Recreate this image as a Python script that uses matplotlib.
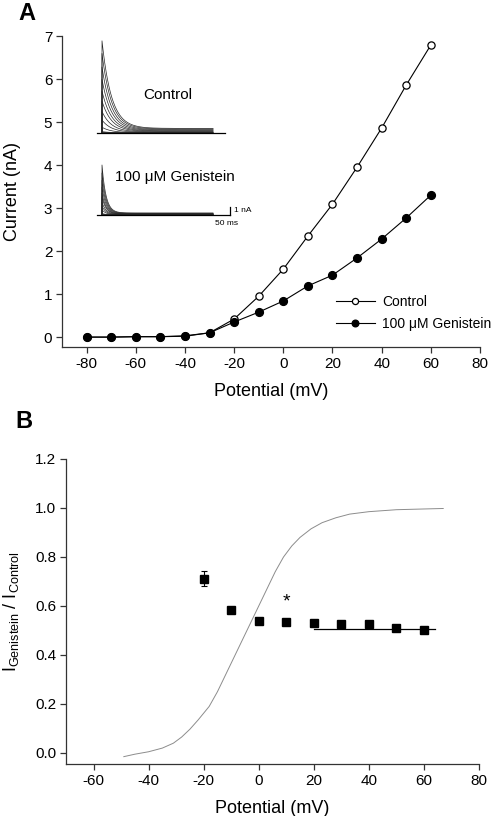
import matplotlib
matplotlib.use('Agg')
import matplotlib.pyplot as plt
import numpy as np

plt.rcParams['font.family'] = ['Liberation Sans', 'DejaVu Sans']
plt.rcParams['mathtext.default'] = 'regular'
plt.rcParams['axes.unicode_minus'] = False

# Panel A: I-V relation
voltage_a = [-80, -70, -60, -50, -40, -30, -20, -10, 0, 10, 20, 30, 40, 50, 60]
current_control = [0.0, 0.0, 0.01, 0.01, 0.02, 0.10, 0.42, 0.95, 1.58, 2.35, 3.09, 3.95, 4.86, 5.86, 6.79]
current_genistein = [0.0, 0.0, 0.01, 0.01, 0.03, 0.10, 0.35, 0.58, 0.84, 1.19, 1.44, 1.84, 2.28, 2.77, 3.30]

# Panel B: ratio of currents
voltage_b = [-20, -10, 0, 10, 20, 30, 40, 50, 60]
ratio = [0.711, 0.584, 0.539, 0.535, 0.532, 0.527, 0.525, 0.510, 0.503]
ratio_err = [0.03, 0.006, 0.006, 0.006, 0.006, 0.01, 0.012, 0.01, 0.008]
fit_v = [20, 64]
fit_ratio = [0.505, 0.505]

# activation curve (grey)
act_v = [-49, -45, -40, -35, -31, -28, -25, -22, -18, -15, -12, -9, -6, -3, 0,
         3, 6, 9, 12, 15, 19, 23, 28, 33, 40, 50, 60, 67]
act_i = [-0.015, -0.005, 0.005, 0.02, 0.04, 0.065, 0.097, 0.135, 0.19, 0.25, 0.32, 0.39,
         0.46, 0.53, 0.60, 0.67, 0.74, 0.80, 0.845, 0.88, 0.915, 0.94, 0.96, 0.975,
         0.985, 0.993, 0.996, 0.998]


def style_axes(ax):
    for s in ['top', 'right']:
        ax.spines[s].set_visible(False)
    for s in ['left', 'bottom']:
        ax.spines[s].set_color('0.2')
        ax.spines[s].set_linewidth(0.9)
    ax.tick_params(direction='out', length=4, width=0.9, color='0.2', labelsize=11, pad=3)


W, H = 492, 816
fig = plt.figure(figsize=(W / 100, H / 100), dpi=100)


def px_axes(x0, y0, x1, y1):
    return fig.add_axes([x0 / W, 1 - y1 / H, (x1 - x0) / W, (y1 - y0) / H])


# ---- Panel A ----
ax1 = px_axes(62, 36, 480, 347)
ax1.plot(voltage_a, current_control, '-o', color='black', lw=0.8, ms=5.2,
         mfc='white', mec='black', mew=0.9, label='Control')
ax1.plot(voltage_a, current_genistein, '-o', color='black', lw=0.8, ms=5.6,
         mfc='black', mec='black', label='100 \u03bcM Genistein')
ax1.set_xlim(-90, 80)
ax1.set_ylim(-0.23, 7)
ax1.set_xticks(range(-80, 81, 20))
ax1.set_yticks(range(0, 8))
ax1.set_xlabel('Potential (mV)', fontsize=13, labelpad=9)
ax1.set_ylabel('Current (nA)', fontsize=13)
ax1.yaxis.set_label_coords(-0.098, 0.5)
style_axes(ax1)
ax1.legend(loc='upper left', bbox_to_anchor=(336 / W, 1 - 295 / H),
           bbox_transform=fig.transFigure, frameon=False, fontsize=10,
           handlelength=2.8, handletextpad=0.5, labelspacing=0.6,
           borderpad=0, borderaxespad=0, markerscale=0.85)
fig.text(18 / W, 1 - 13 / H, 'A', fontsize=17, fontweight='bold', va='center', ha='left')

# ---- inset current traces ----
ins = px_axes(90, 30, 250, 232)
ins.set_xlim(0, 1000)
ins.set_ylim(0, 202 / 7.5)
ins.axis('off')
t = np.linspace(0, 694, 400)
traces = [(13.2, current_control, 1.81, 59.0, 0.05),
          (2.27, current_genistein, 2.02, 25.0, 0.04)]
for base, amps, scale, tau, ss in traces:
    for a in amps:
        y = base + scale * a * ((1 - ss) * np.exp(-t / tau) + ss)
        ins.plot(np.r_[75, 75 + t], np.r_[base, y], color='0.15', lw=0.5)
ins.plot([44, 844], [13.2, 13.2], color='black', lw=0.9)
ins.plot([44, 875], [2.27, 2.27], color='black', lw=0.9)
ins.plot([875, 875], [2.27, 3.27], color='black', lw=0.9)
ins.text(487, 18.27, 'Control', fontsize=11, ha='center', va='center')
ins.text(531, 7.33, '100 \u03bcM Genistein', fontsize=11, ha='center', va='center')
ins.text(900, 2.93, '1 nA', fontsize=6, ha='left', va='center')
ins.text(856, 1.07, '50 ms', fontsize=6, ha='center', va='center')

# ---- Panel B ----
ax2 = px_axes(66, 459, 479, 764)
ax2.plot(act_v, act_i, color='0.55', lw=0.7)
ax2.errorbar(voltage_b, ratio, yerr=ratio_err, fmt='s', color='black', ms=5.5,
             capsize=2.5, elinewidth=0.8, capthick=0.8)
ax2.plot(fit_v, fit_ratio, color='black', lw=0.9)
ax2.text(10, 0.615, '*', fontsize=14, ha='center', va='center')
ax2.set_xlim(-70, 80)
ax2.set_ylim(-0.045, 1.2)
ax2.set_xticks(range(-60, 81, 20))
ax2.set_yticks(np.arange(0, 1.21, 0.2))
ax2.set_yticklabels([f'{v:.1f}' for v in np.arange(0, 1.21, 0.2)])
ax2.set_xlabel('Potential (mV)', fontsize=13, labelpad=9)
ax2.set_ylabel(r'$I_{Genistein}$ / $I_{Control}$', fontsize=13)
ax2.yaxis.set_label_coords(-0.11, 0.5)
style_axes(ax2)
fig.text(15 / W, 1 - 421 / H, 'B', fontsize=17, fontweight='bold', va='center', ha='left')

fig.savefig('out.png', dpi=100)
